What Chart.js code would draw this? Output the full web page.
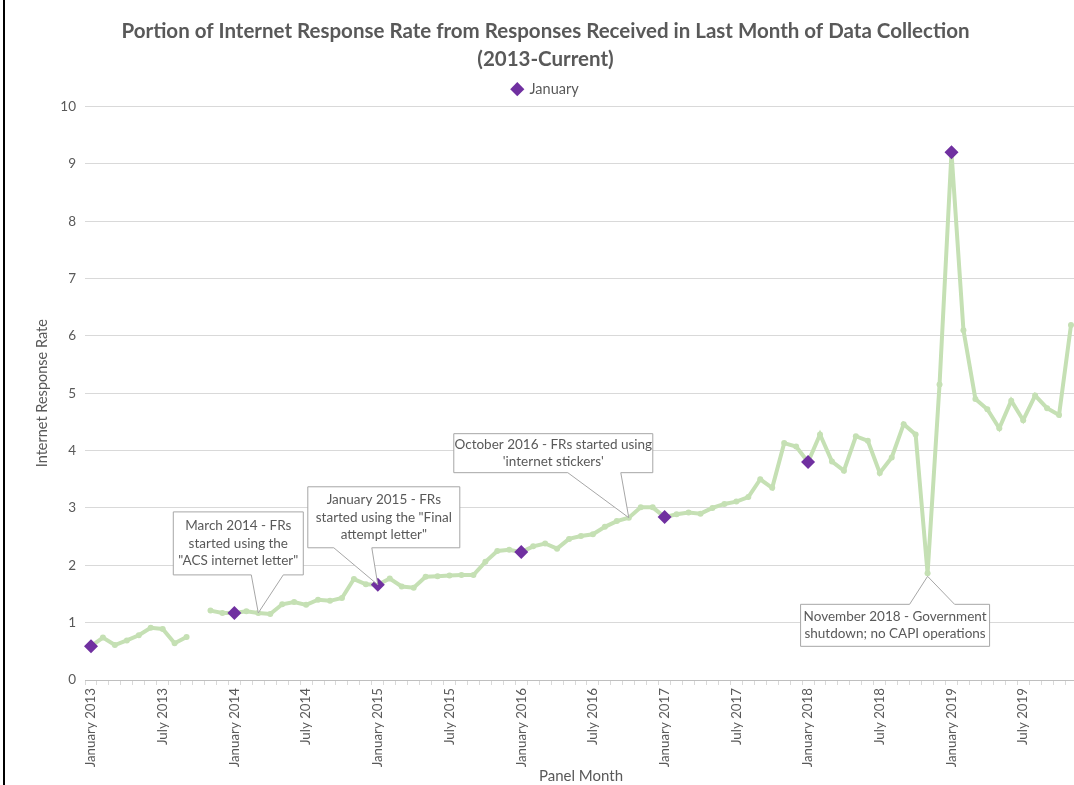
<!DOCTYPE html>
<html>
<head>
<meta charset="utf-8">
<script src="https://cdn.jsdelivr.net/npm/chart.js@4.4.1/dist/chart.umd.min.js"></script>
<style>
  html, body { margin: 0; padding: 0; background: #fff; overflow: hidden; width: 1074px; height: 785px; }
  #wrap { position: relative; width: 1074px; height: 785px; overflow: hidden; }
  #frame { position: absolute; left: 3px; top: 0; width: 2px; height: 785px; background: #000; }
  canvas { position: absolute; left: 0; top: 0; display: block; }
</style>
</head>
<body>
<div id="wrap">
  <canvas id="c" width="1090" height="785"></canvas>
  <div id="frame"></div>
</div>
<script>
// ---- Data ----
const monthNames = ["January","February","March","April","May","June","July","August","September","October","November","December"];
const years = [2013, 2014, 2015, 2016, 2017, 2018, 2019];
const lastMonthCount = 83; // January 2013 .. November 2019
const months = [];
for (const y of years) for (const m of monthNames) if (months.length < lastMonthCount) months.push(m + " " + y);

const rate2013 = [0.59, 0.74, 0.61, 0.69, 0.78, 0.91, 0.89, 0.64, 0.75, null, 1.21, 1.17];
const rate2014 = [1.17, 1.20, 1.17, 1.15, 1.32, 1.36, 1.31, 1.40, 1.38, 1.43, 1.76, 1.67];
const rate2015 = [1.66, 1.77, 1.63, 1.61, 1.80, 1.81, 1.82, 1.83, 1.83, 2.06, 2.25, 2.27];
const rate2016 = [2.23, 2.33, 2.38, 2.29, 2.46, 2.51, 2.54, 2.67, 2.77, 2.83, 3.01, 3.01];
const rate2017 = [2.84, 2.89, 2.92, 2.90, 3.00, 3.07, 3.11, 3.19, 3.50, 3.35, 4.13, 4.07];
const rate2018 = [3.80, 4.28, 3.81, 3.65, 4.25, 4.17, 3.61, 3.88, 4.46, 4.28, 1.86, 5.15];
const rate2019 = [9.20, 6.10, 4.90, 4.72, 4.39, 4.87, 4.53, 4.96, 4.74, 4.62, 6.19];
const rates = [].concat(rate2013, rate2014, rate2015, rate2016, rate2017, rate2018, rate2019);
const januaryRates = rates.map((v, i) => months[i].startsWith("January") ? v : null);

const yTicks = [0, 1, 2, 3, 4, 5, 6, 7, 8, 9, 10];

const callouts = [
  { month: "March 2014", lines: ["March 2014 - FRs", "started using the", "\"ACS internet letter\""],
    box: { l: -85, r: 45, t: -101, b: -38 }, base: [-7, 25], tipDy: 0, side: "bottom" },
  { month: "January 2015", lines: ["January 2015 - FRs", "started using the \"Final", "attempt letter\""],
    box: { l: -70, r: 82, t: -98, b: -37 }, base: [-44, -6], tipDy: 0, side: "bottom" },
  { month: "October 2016", lines: ["October 2016 - FRs started using", "'internet stickers'"],
    box: { l: -175, r: 24, t: -84, b: -45 }, base: [-61, -8], tipDy: 0, side: "bottom" },
  { month: "November 2018", lines: ["November 2018 - Government", "shutdown; no CAPI operations"],
    box: { l: -127, r: 62, t: 28, b: 70 }, base: [-18, 27], tipDy: 3, side: "top" }
];

// ---- Styles ----
const FONT = "Lato, 'Open Sans', sans-serif";
const GRAY = "#595959";
const GREEN = "#c5e0b4";
const PURPLE = "#7030a0";

const calloutPlugin = {
  id: "callouts",
  afterDatasetsDraw(chart) {
    const ctx = chart.ctx;
    const xs = chart.scales.x, ys = chart.scales.y;
    ctx.save();
    for (const c of callouts) {
      const idx = months.indexOf(c.month);
      const tx = xs.getPixelForValue(idx);
      const ty = ys.getPixelForValue(rates[idx]) + c.tipDy;
      const L = tx + c.box.l, R = tx + c.box.r, T = ty + c.box.t, B = ty + c.box.b;
      const b1 = tx + c.base[0], b2 = tx + c.base[1];
      ctx.beginPath();
      if (c.side === "bottom") {
        ctx.moveTo(L, T); ctx.lineTo(R, T); ctx.lineTo(R, B);
        ctx.lineTo(b2, B); ctx.lineTo(tx, ty); ctx.lineTo(b1, B);
        ctx.lineTo(L, B); ctx.closePath();
      } else {
        ctx.moveTo(L, T); ctx.lineTo(b1, T); ctx.lineTo(tx, ty); ctx.lineTo(b2, T);
        ctx.lineTo(R, T); ctx.lineTo(R, B); ctx.lineTo(L, B); ctx.closePath();
      }
      ctx.fillStyle = "#ffffff";
      ctx.fill();
      ctx.strokeStyle = "#a6a6a6";
      ctx.lineWidth = 1;
      ctx.stroke();
      ctx.fillStyle = GRAY;
      ctx.font = "13.5px " + FONT;
      ctx.textAlign = "center";
      ctx.textBaseline = "middle";
      const lh = 17.5;
      const cy = (T + B) / 2;
      const cx = (L + R) / 2;
      c.lines.forEach((s, i) => {
        ctx.fillText(s, cx, cy + (i - (c.lines.length - 1) / 2) * lh);
      });
    }
    ctx.restore();
  }
};

new Chart(document.getElementById("c"), {
  type: "line",
  data: {
    labels: months,
    datasets: [
      {
        label: "January",
        data: januaryRates,
        showLine: false,
        pointStyle: "rectRot",
        pointRadius: 7,
        pointBackgroundColor: PURPLE,
        pointBorderColor: PURPLE,
        pointBorderWidth: 0,
        backgroundColor: PURPLE,
        borderColor: PURPLE,
        order: 0
      },
      {
        label: "Internet Response Rate",
        data: rates,
        borderColor: GREEN,
        backgroundColor: GREEN,
        borderWidth: 4,
        pointRadius: 3,
        pointBackgroundColor: GREEN,
        pointBorderWidth: 0,
        spanGaps: false,
        tension: 0,
        order: 1
      }
    ]
  },
  options: {
    responsive: false,
    animation: false,
    layout: { padding: { left: 3, right: 2, top: 0, bottom: 0 } },
    plugins: {
      tooltip: { enabled: false },
      title: {
        display: true,
        text: ["Portion of Internet Response Rate from Responses Received in Last Month of Data Collection", "(2013-Current)"],
        color: GRAY,
        font: { family: FONT, size: 20.5, weight: "bold", lineHeight: 1.34 },
        padding: { top: 18, bottom: 0 }
      },
      legend: {
        display: true,
        position: "top",
        labels: {
          filter: (item) => item.text === "January",
          usePointStyle: true,
          pointStyle: "rectRot",
          boxWidth: 10,
          boxHeight: 10,
          color: GRAY,
          font: { family: FONT, size: 14.5 },
          padding: 9
        }
      }
    },
    scales: {
      x: {
        type: "category",
        offset: true,
        afterFit(scale) { scale.height = 105; },
        grid: { display: true, drawOnChartArea: false, drawTicks: true, tickLength: 5, color: "#d9d9d9", offset: true },
        border: { display: true, color: "#bfbfbf", width: 1 },
        ticks: {
          autoSkip: false,
          minRotation: 90,
          maxRotation: 90,
          padding: 3,
          color: GRAY,
          font: { family: FONT, size: 13.3 },
          callback: function (val, index) { return index % 6 === 0 ? months[index] : ""; }
        },
        title: { display: true, text: "Panel Month", color: GRAY, font: { family: FONT, size: 15 }, padding: { top: 2, bottom: 0 } }
      },
      y: {
        min: yTicks[0],
        max: yTicks[yTicks.length - 1],
        afterFit(scale) { scale.width = 82; },
        grid: { color: "#d9d9d9", lineWidth: 1, drawTicks: false },
        border: { display: false },
        ticks: { stepSize: 1, padding: 9, color: GRAY, font: { family: FONT, size: 13.5 } },
        title: { display: true, text: "Internet Response Rate", color: GRAY, font: { family: FONT, size: 14.5 }, padding: { top: 31, bottom: 4 } }
      }
    }
  },
  plugins: [calloutPlugin]
});
</script>
</body>
</html>
